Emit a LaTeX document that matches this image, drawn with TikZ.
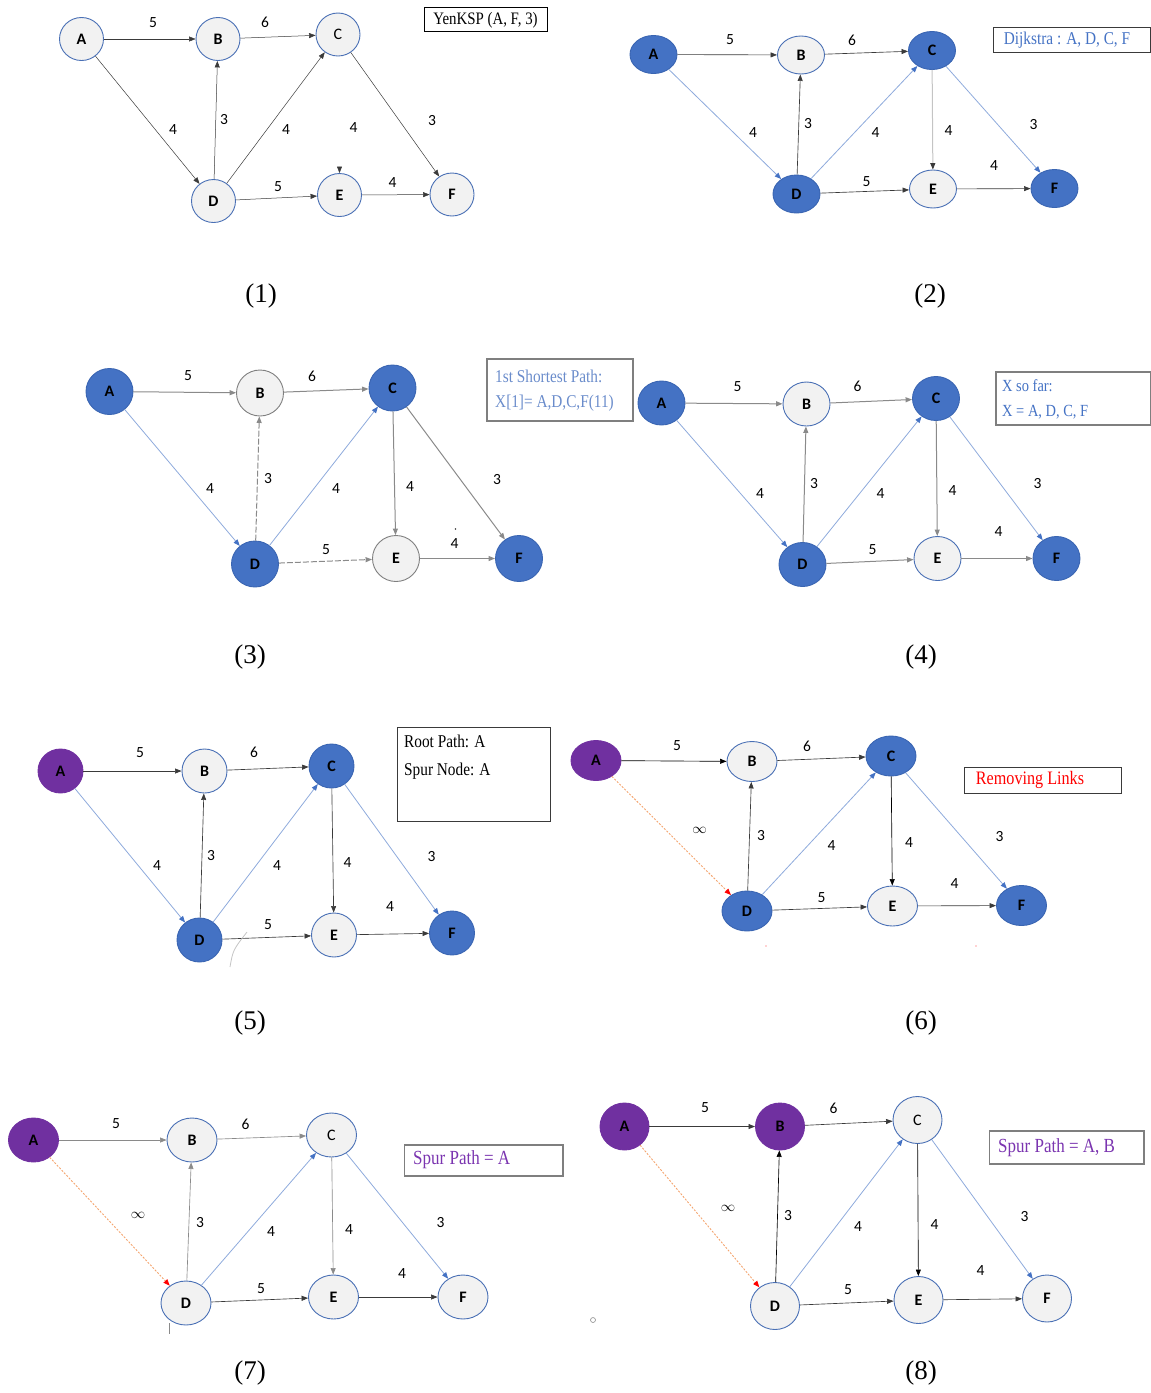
\documentclass[tikz,border=0pt]{standalone}
\usepackage{fontspec}
\setmainfont{Liberation Serif}
\newfontfamily\calib{Carlito}
\newfontfamily\narrowserif[FakeStretch=0.85]{Liberation Serif}
\usetikzlibrary{arrows.meta,shapes.geometric}

\definecolor{nodeblue}{HTML}{4472C4}
\definecolor{nodeblueline}{HTML}{3A65B2}
\definecolor{nodegray}{HTML}{F2F2F2}
\definecolor{nodeline}{HTML}{4A70B5}
\definecolor{nodepurple}{HTML}{7030A0}
\definecolor{edgedark}{HTML}{3A3A3A}
\definecolor{edgegray}{HTML}{8A8A8A}
\definecolor{edgelight}{HTML}{C4C4C4}
\definecolor{edgeblue}{HTML}{8EAADC}
\definecolor{headblue}{HTML}{4472C4}
\definecolor{edgeorange}{HTML}{F4A46E}
\definecolor{textblue}{HTML}{4472C4}
\definecolor{textblueb}{HTML}{6A8CCB}
\definecolor{textpurple}{HTML}{7B35B0}
\definecolor{framegray}{HTML}{7F7F7F}

\tikzset{
  nsz/.style={minimum width=44pt,minimum height=43pt},
  nd/.style={ellipse,inner sep=0pt,line width=0.9pt,nsz,text=black,
    font=\calib\fontsize{16}{18}\selectfont\bfseries},
  lt/.style={nd,draw=nodeline,fill=nodegray},
  bl/.style={nd,draw=nodeblueline,fill=nodeblue},
  pu/.style={nd,draw=nodepurple,fill=nodepurple},
  reg/.style={font=\calib\fontsize{16}{18}\selectfont},
  wl/.style={font=\calib\fontsize{15.5}{17}\selectfont,inner sep=0pt},
  inf/.style={font=\fontsize{15}{17}\selectfont,inner sep=0pt},
  hd/.style={-{Triangle[length=6.5pt,width=5pt]}},
  edk/.style={draw=edgedark,line width=0.65pt,hd},
  egy/.style={draw=edgegray,line width=1pt,hd},
  eds/.style={draw=edgegray,line width=1pt,dash pattern=on 6pt off 2pt,hd},
  elg/.style={draw=edgelight,line width=1pt,-{Triangle[length=6.5pt,width=5pt,color=edgedark]}},
  ebl/.style={draw=edgeblue,line width=0.8pt,-{Triangle[length=6.5pt,width=5pt,color=headblue]}},
  eor/.style={draw=edgeorange,line width=0.9pt,dash pattern=on 2pt off 1.5pt,
    -{Triangle[length=6.5pt,width=5pt,color=red]}},
  bxf/.style={draw=#1,line width=1pt},
  bxt/.style={inner sep=0pt,font=\narrowserif\fontsize{18}{20}\selectfont},
  capt/.style={inner sep=0pt,font=\fontsize{27}{30}\selectfont},
}

\begin{document}
\begin{tikzpicture}[x=1pt,y=-1pt]
\useasboundingbox (0,0) rectangle (1151,1393);

% ---------------- (1) the graph ----------------
\begin{scope}[nsz/.style={minimum width=44pt,minimum height=43pt},
              edk/.style={draw=edgedark,line width=0.5pt,hd}]
\node[lt] (a1) at (81.5,39) {A};
\node[lt] (b1) at (218,39) {B};
\node[lt,reg] (c1) at (338,34.5) {C};
\node[lt] (d1) at (213.5,201) {D};
\node[lt] (e1) at (339.5,195) {E};
\node[lt] (f1) at (452,194.5) {F};
\coordinate (ce1) at (339.5,166.5);
\draw[edk] (a1) -- (b1);
\draw[edk] (b1) -- (c1);
\draw[edk] (a1) -- (d1);
\draw[edk] (d1) -- (b1);
\draw[edk] (d1) -- (c1);
\draw[edk] (c1) -- (f1);
\draw[edk] (d1) -- (e1);
\draw[edk] (e1) -- (f1);
\draw[edk] (ce1) -- (e1);
\node[wl] (w1ab) at (153,22.5) {5};
\node[wl] (w1bc) at (265,22.5) {6};
\node[wl] (w1ad) at (173,130) {4};
\node[wl] (w1db) at (224,120) {3};
\node[wl] (w1dc) at (286,130) {4};
\node[wl] (w1ce) at (353.5,127.5) {4};
\node[wl] (w1cf) at (432,121) {3};
\node[wl] (w1de) at (278,186.5) {5};
\node[wl] (w1ef) at (392.5,182.5) {4};
\draw[bxf=black,line width=0.8pt] (424,7) rectangle (547,31);
\node[bxt,font=\narrowserif\fontsize{17.5}{19}\selectfont] (t1) at (485.5,20) {YenKSP (A, F, 3)};
\node[capt] (k1) at (261,296) {(1)};
\end{scope}

% ---------------- (2) Dijkstra ----------------
\begin{scope}[nsz/.style={minimum width=47pt,minimum height=38pt}]
\node[bl] (a2) at (653.5,54.5) {A};
\node[lt] (b2) at (801,55) {B};
\node[bl] (c2) at (932,50.5) {C};
\node[bl] (d2) at (796.5,194) {D};
\node[lt] (e2) at (933,189) {E};
\node[bl] (f2) at (1054.5,188.5) {F};
\draw[edk] (a2) -- (b2);
\draw[edk] (b2) -- (c2);
\draw[ebl] (a2) -- (d2);
\draw[edk] (d2) -- (b2);
\draw[ebl] (d2) -- (c2);
\draw[elg] (c2) -- (e2);
\draw[ebl] (c2) -- (f2);
\draw[edk] (d2) -- (e2);
\draw[edk] (e2) -- (f2);
\node[wl] (w2ab) at (730,40) {5};
\node[wl] (w2bc) at (852,40.5) {6};
\node[wl] (w2ad) at (753,132.5) {4};
\node[wl] (w2db) at (808,124) {3};
\node[wl] (w2dc) at (875.5,132.5) {4};
\node[wl] (w2ce) at (948.5,131) {4};
\node[wl] (w2cf) at (1033.5,125) {3};
\node[wl] (w2de) at (866.5,181.5) {5};
\node[wl] (w2ef) at (994,165.5) {4};
\draw[bxf=edgedark] (993,27.5) rectangle (1150,52.5);
\node[bxt,text=textblue] (t2) at (1067,40.5) {Dijkstra : A, D, C, F};
\node[capt] (k2) at (930,296) {(2)};
\end{scope}

% ---------------- (3) first shortest path ----------------
\begin{scope}[nsz/.style={minimum width=47pt,minimum height=46pt}]
\node[bl] (a3) at (109.5,391.5) {A};
\node[lt,draw=framegray] (b3) at (260,393) {B};
\node[bl] (c3) at (392.5,388) {C};
\node[bl] (d3) at (255,564) {D};
\node[lt,draw=framegray] (e3) at (396,558.5) {E};
\node[bl] (f3) at (519,558.5) {F};
\draw[egy] (a3) -- (b3);
\draw[egy] (b3) -- (c3);
\draw[ebl] (a3) -- (d3);
\draw[eds] (d3) -- (b3);
\draw[ebl] (d3) -- (c3);
\draw[egy] (c3) -- (e3);
\draw[egy] (c3) -- (f3);
\draw[eds] (d3) -- (e3);
\draw[egy] (e3) -- (f3);
\node[wl] (w3ab) at (188,376) {5};
\node[wl] (w3bc) at (312,376) {6};
\node[wl] (w3ad) at (210,488.5) {4};
\node[wl] (w3db) at (268,478.5) {3};
\node[wl] (w3dc) at (336,488.5) {4};
\node[wl] (w3ce) at (410,486.5) {4};
\node[wl] (w3cf) at (497,480) {3};
\node[wl] (w3de) at (326,550) {5};
\node[wl] (w3ef) at (454.5,544) {4};
\fill[edgedark] (455.5,529) circle (0.9);
\draw[bxf=framegray,line width=1.6pt] (487,359) rectangle (633,421);
\node[bxt,anchor=west,text=textblueb] (t3a) at (495,376) {1st Shortest Path:};
\node[bxt,anchor=west,text=textblueb] (t3b) at (495,403) {X[1]= A,D,C,F(11)};
\node[capt] (k3) at (250,657) {(3)};
\end{scope}

% ---------------- (4) paths found so far ----------------
\begin{scope}[nsz/.style={minimum width=47pt,minimum height=44pt}]
\node[bl] (a4) at (661.5,403) {A};
\node[lt] (b4) at (806.5,404) {B};
\node[bl] (c4) at (936,398.5) {C};
\node[bl] (d4) at (802.5,564.5) {D};
\node[lt] (e4) at (937.5,558.5) {E};
\node[bl] (f4) at (1056.5,558.5) {F};
\draw[egy] (a4) -- (b4);
\draw[egy] (b4) -- (c4);
\draw[ebl] (a4) -- (d4);
\draw[egy] (d4) -- (b4);
\draw[ebl] (d4) -- (c4);
\draw[egy] (c4) -- (e4);
\draw[ebl] (c4) -- (f4);
\draw[egy] (d4) -- (e4);
\draw[egy] (e4) -- (f4);
\node[wl] (w4ab) at (737.5,386.5) {5};
\node[wl] (w4bc) at (857.5,386.5) {6};
\node[wl] (w4ad) at (760,494) {4};
\node[wl] (w4db) at (814,484) {3};
\node[wl] (w4dc) at (880.5,494) {4};
\node[wl] (w4ce) at (952.5,490.5) {4};
\node[wl] (w4cf) at (1037.5,484) {3};
\node[wl] (w4de) at (872.5,550) {5};
\node[wl] (w4ef) at (998.5,531.5) {4};
\draw[bxf=framegray,line width=1.4pt] (996,372) rectangle (1150.3,425);
\node[bxt,anchor=west,text=textblue,font=\narrowserif\fontsize{17}{19}\selectfont] (t4a) at (1002,385.5) {X so far:};
\node[bxt,anchor=west,text=textblue,font=\narrowserif\fontsize{17}{19}\selectfont] (t4b) at (1002,412.5) {X = A, D, C, F};
\node[capt] (k4) at (921,657) {(4)};
\end{scope}

% ---------------- (5) root path and spur node ----------------
\begin{scope}[nsz/.style={minimum width=45pt,minimum height=44pt}]
\node[pu] (a5) at (60.5,771) {A};
\node[lt] (b5) at (204.5,771) {B};
\node[bl] (c5) at (331.5,766) {C};
\node[bl] (d5) at (199.5,940) {D};
\node[lt] (e5) at (334,935) {E};
\node[bl] (f5) at (452,933) {F};
\draw[edk] (a5) -- (b5);
\draw[edk] (b5) -- (c5);
\draw[ebl] (a5) -- (d5);
\draw[edk] (d5) -- (b5);
\draw[ebl] (d5) -- (c5);
\draw[edk] (c5) -- (e5);
\draw[ebl] (c5) -- (f5);
\draw[edk] (d5) -- (e5);
\draw[edk] (e5) -- (f5);
\draw[edgelight,line width=0.8pt] (230,967) .. controls (233,950) .. (247,932);
\node[wl] (w5ab) at (140,753) {5};
\node[wl] (w5bc) at (254,752.5) {6};
\node[wl] (w5ad) at (157,866) {4};
\node[wl] (w5db) at (211,856) {3};
\node[wl] (w5dc) at (277,866) {4};
\node[wl] (w5ce) at (347.5,863) {4};
\node[wl] (w5cf) at (431.5,857) {3};
\node[wl] (w5de) at (268,925) {5};
\node[wl] (w5ef) at (390,907) {4};
\draw[bxf=edgedark,line width=0.8pt] (397,727) rectangle (550,821);
\node[bxt,anchor=west] (t5a) at (404,741) {Root Path: A};
\node[bxt,anchor=west] (t5b) at (404,771) {Spur Node: A};
\node[capt] (k5) at (250,1023) {(5)};
\end{scope}

% ---------------- (6) removing links ----------------
\begin{scope}[nsz/.style={minimum width=50pt,minimum height=40pt}]
\node[pu] (a6) at (596,760.5) {A};
\node[lt] (b6) at (752,761.5) {B};
\node[bl] (c6) at (891,756) {C};
\node[bl] (d6) at (747,911) {D};
\node[lt] (e6) at (892.5,906) {E};
\node[bl] (f6) at (1021.5,905.5) {F};
\draw[edk,draw=black] (a6) -- (b6);
\draw[edk] (b6) -- (c6);
\draw[eor] (a6) -- (d6);
\draw[edk] (d6) -- (b6);
\draw[ebl] (d6) -- (c6);
\draw[edk,draw=black] (c6) -- (e6);
\draw[ebl] (c6) -- (f6);
\draw[edk] (d6) -- (e6);
\draw[edk] (e6) -- (f6);
\fill[red!35] (766,946) circle (0.8);
\fill[red!35] (976,946) circle (0.8);
\node[wl] (w6ab) at (677,746) {5};
\node[wl] (w6bc) at (807,746) {6};
\node[inf] (w6ad) at (699.5,830) {$\infty$};
\node[wl] (w6db) at (761,836) {3};
\node[wl] (w6dc) at (831.5,846) {4};
\node[wl] (w6ce) at (909,843) {4};
\node[wl] (w6cf) at (999.5,837) {3};
\node[wl] (w6de) at (821.5,898) {5};
\node[wl] (w6ef) at (954.5,884) {4};
\draw[bxf=edgedark,line width=0.8pt] (964.5,767) rectangle (1121,793);
\node[bxt,text=red,font=\narrowserif\fontsize{19}{21}\selectfont] (t6) at (1030,780) {Removing Links};
\node[capt] (k6) at (921,1023) {(6)};
\end{scope}

% ---------------- (7) spur path from A ----------------
\begin{scope}[nsz/.style={minimum width=50pt,minimum height=44pt}]
\node[pu] (a7) at (33.5,1140) {A};
\node[lt] (b7) at (192,1140) {B};
\node[lt,reg] (c7) at (331.5,1135) {C};
\node[lt] (d7) at (186,1303) {D};
\node[lt] (e7) at (333.5,1297) {E};
\node[lt] (f7) at (463,1297) {F};
\draw[edk,draw=edgegray] (a7) -- (b7);
\draw[edk,draw=edgegray] (b7) -- (c7);
\draw[eor] (a7) -- (d7);
\draw[edk,draw=edgegray] (d7) -- (b7);
\draw[ebl] (d7) -- (c7);
\draw[edk,draw=edgegray] (c7) -- (e7);
\draw[ebl] (c7) -- (f7);
\draw[edk] (d7) -- (e7);
\draw[edk] (e7) -- (f7);
\draw[edgegray,line width=0.8pt] (169.5,1323) -- (169.5,1334);
\node[wl] (w7ab) at (116,1124) {5};
\node[wl] (w7bc) at (245.5,1124) {6};
\node[inf] (w7ad) at (138,1215) {$\infty$};
\node[wl] (w7db) at (200,1222.5) {3};
\node[wl] (w7dc) at (271,1232) {4};
\node[wl] (w7ce) at (349,1229.5) {4};
\node[wl] (w7cf) at (440.5,1223) {3};
\node[wl] (w7de) at (261,1288.5) {5};
\node[wl] (w7ef) at (402,1274) {4};
\draw[bxf=framegray,line width=1.2pt] (404.5,1145) rectangle (563,1176);
\node[bxt,anchor=west,text=textpurple,font=\narrowserif\fontsize{20}{22}\selectfont] (t7) at (413,1160) {Spur Path = A};
\node[capt] (k7) at (250,1373) {(7)};
\end{scope}

% ---------------- (8) spur path from B ----------------
\begin{scope}[nsz/.style={minimum width=49pt,minimum height=47pt}]
\node[pu] (a8) at (624.5,1126.5) {A};
\node[pu] (b8) at (780,1126.5) {B};
\node[lt,reg] (c8) at (917.5,1120) {C};
\node[lt] (d8) at (775,1306) {D};
\node[lt] (e8) at (918.5,1300) {E};
\node[lt] (f8) at (1047,1298.5) {F};
\draw[edk] (a8) -- (b8);
\draw[edk] (b8) -- (c8);
\draw[eor] (a8) -- (d8);
\draw[edk,draw=black] (d8) -- (b8);
\draw[ebl] (d8) -- (c8);
\draw[edk,draw=black] (c8) -- (e8);
\draw[ebl] (c8) -- (f8);
\draw[edk] (d8) -- (e8);
\draw[edk] (e8) -- (f8);
\draw[edgegray,line width=0.6pt] (593,1320) circle (2.5);
\node[wl] (w8ab) at (705,1108) {5};
\node[wl] (w8bc) at (833.5,1108) {6};
\node[inf] (w8ad) at (728,1208) {$\infty$};
\node[wl] (w8db) at (788,1216) {3};
\node[wl] (w8dc) at (858,1227) {4};
\node[wl] (w8ce) at (934.5,1224.5) {4};
\node[wl] (w8cf) at (1024.5,1216.5) {3};
\node[wl] (w8de) at (848,1290) {5};
\node[wl] (w8ef) at (980.5,1271) {4};
\draw[bxf=framegray,line width=1.2pt] (989.5,1131) rectangle (1144,1164);
\node[bxt,anchor=west,text=textpurple,font=\narrowserif\fontsize{20}{22}\selectfont] (t8) at (998,1148) {Spur Path = A, B};
\node[capt] (k8) at (921,1373) {(8)};
\end{scope}
\end{tikzpicture}
\end{document}
